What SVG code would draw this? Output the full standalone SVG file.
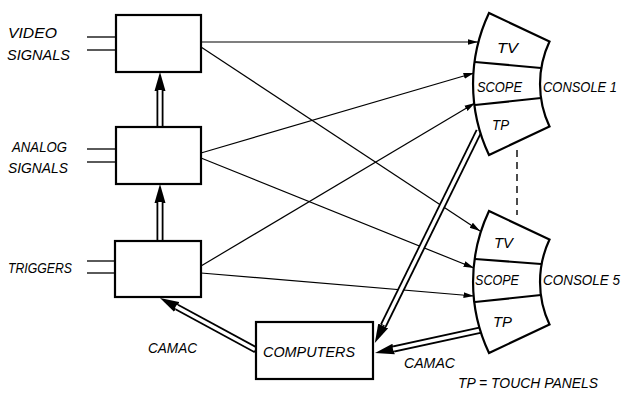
<svg xmlns="http://www.w3.org/2000/svg" width="624" height="393" viewBox="0 0 624 393">
<style>
.box{fill:#fff;stroke:#000;stroke-width:2.2}
.con{fill:#fff;stroke:#000;stroke-width:2.2;stroke-linejoin:miter}
.div{fill:none;stroke:#000;stroke-width:2.2}
.in{stroke:#000;stroke-width:1.3}
.thin{fill:none;stroke:#000;stroke-width:1.2;marker-end:url(#head)}
.dblo{fill:none;stroke:#000;stroke-width:7;marker-end:url(#dblhead)}
.dbli{fill:none;stroke:#fff;stroke-width:3.4}
.dash{stroke:#000;stroke-width:1.4;stroke-dasharray:7 5}
text{font-family:"Liberation Sans",Arial,sans-serif;font-style:italic;font-size:14px;fill:#000}
</style>
<defs>
<marker id="head" markerUnits="userSpaceOnUse" viewBox="0 -4 11 8" markerWidth="11" markerHeight="8" refX="10.5" refY="0" orient="auto"><path d="M0,-3 L10.5,0 L0,3 Z" fill="#000"/></marker>
<marker id="dblhead" markerUnits="userSpaceOnUse" viewBox="0 -6 20 12" markerWidth="20" markerHeight="12" refX="0" refY="0" orient="auto"><path d="M0,-5.5 L19,0 L0,5.5 Z" fill="#000"/></marker>
</defs>
<rect width="624" height="393" fill="#fff"/>

<g id="connectors">
<line class="in" x1="87" y1="37" x2="116" y2="37"/>
<line class="in" x1="87" y1="50" x2="116" y2="50"/>
<line class="in" x1="87" y1="149" x2="116" y2="149"/>
<line class="in" x1="87" y1="162" x2="116" y2="162"/>
<line class="in" x1="87" y1="261" x2="115" y2="261"/>
<line class="in" x1="87" y1="273" x2="115" y2="273"/>
<path class="thin" d="M201,42 L478,42"/>
<path class="thin" d="M201,47 L480,231"/>
<path class="thin" d="M201,153 L474,73"/>
<path class="thin" d="M201,158 L474,268"/>
<path class="thin" d="M201,266 L475,103"/>
<path class="thin" d="M201,273 L474,296"/>
<path class="dblo" d="M160,127 L160,91"/>
<path class="dbli" d="M160,126 L160,90"/>
<path class="dblo" d="M160,241 L160,203"/>
<path class="dbli" d="M160,240 L160,202"/>
<path class="dblo" d="M256,350 L176.7,307"/>
<path class="dbli" d="M255,349.5 L175.8,306.5"/>
<path class="dblo" d="M479,131 L383.2,325.9"/>
<path class="dbli" d="M479,131 L383.6,325"/>
<path class="dblo" d="M481,330 L393.6,349"/>
<path class="dbli" d="M481,330 L393,349.1"/>
<line class="dash" x1="517" y1="150" x2="517" y2="215"/>
</g>

<g id="video">
<rect class="box" x="116" y="15" width="85" height="57"/>
<text x="8" y="38" textLength="49" lengthAdjust="spacingAndGlyphs">VIDEO</text>
<text x="7" y="60" textLength="63" lengthAdjust="spacingAndGlyphs">SIGNALS</text>
</g>
<g id="analog">
<rect class="box" x="116" y="127" width="85" height="57"/>
<text x="12" y="152" textLength="55" lengthAdjust="spacingAndGlyphs">ANALOG</text>
<text x="8" y="173" textLength="60" lengthAdjust="spacingAndGlyphs">SIGNALS</text>
</g>
<g id="triggers">
<rect class="box" x="115" y="241" width="86" height="56"/>
<text x="8" y="273" textLength="64" lengthAdjust="spacingAndGlyphs">TRIGGERS</text>
</g>
<g id="computers">
<rect class="box" x="256" y="322" width="117" height="57"/>
<text x="263" y="357" textLength="92" lengthAdjust="spacingAndGlyphs">COMPUTERS</text>
</g>
<g id="camac-labels">
<text x="148" y="353" textLength="49" lengthAdjust="spacingAndGlyphs">CAMAC</text>
<text x="404" y="368" textLength="51" lengthAdjust="spacingAndGlyphs">CAMAC</text>
</g>
<g id="console1">
<path class="con" d="M489,13 A166,166 0 0 0 489,155 L549.5,126.5 A100,100 0 0 1 549.5,41.5 Z"/>
<path class="div" d="M475,62 L541,68"/>
<path class="div" d="M475,105 L541,98"/>
<text x="497" y="53" textLength="21" lengthAdjust="spacingAndGlyphs">TV</text>
<text x="477" y="92" textLength="45" lengthAdjust="spacingAndGlyphs">SCOPE</text>
<text x="492" y="130" textLength="17" lengthAdjust="spacingAndGlyphs">TP</text>
<text x="543" y="92" textLength="74" lengthAdjust="spacingAndGlyphs">CONSOLE 1</text>
</g>
<g id="console5">
<path class="con" d="M489,211 A166,166 0 0 0 489,353 L549.5,324.5 A100,100 0 0 1 549.5,239.5 Z"/>
<path class="div" d="M475,259 L541,264"/>
<path class="div" d="M475,302 L541,295"/>
<text x="494" y="248" textLength="19" lengthAdjust="spacingAndGlyphs">TV</text>
<text x="475" y="285" textLength="44" lengthAdjust="spacingAndGlyphs">SCOPE</text>
<text x="493" y="327" textLength="19" lengthAdjust="spacingAndGlyphs">TP</text>
<text x="543" y="285" textLength="77" lengthAdjust="spacingAndGlyphs">CONSOLE 5</text>
</g>
<g id="legend">
<text x="458" y="388" textLength="140" lengthAdjust="spacingAndGlyphs">TP = TOUCH PANELS</text>
</g>
</svg>
